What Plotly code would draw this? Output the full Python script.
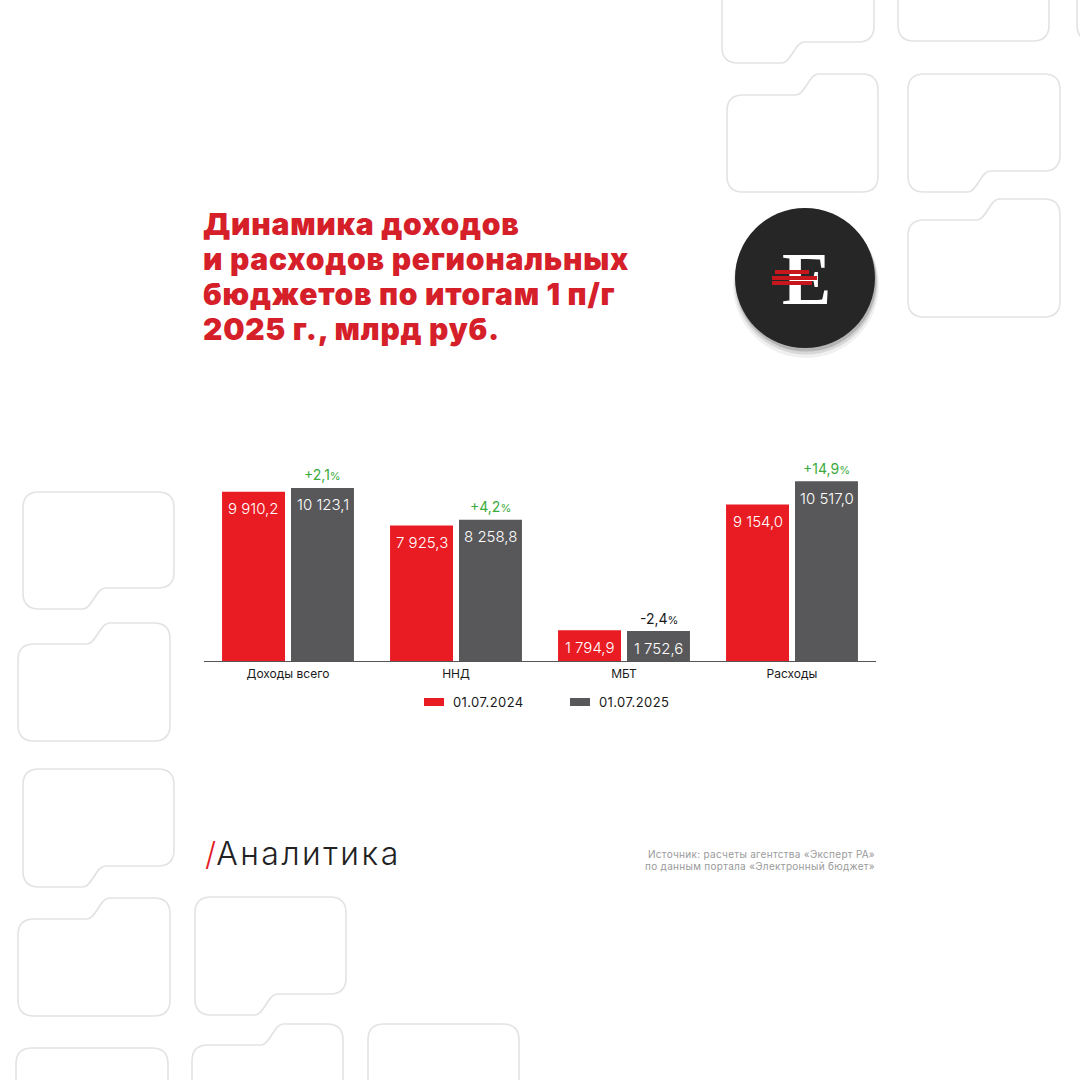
import plotly.graph_objects as go

# ---------------- data ----------------
categories = ["Доходы всего", "ННД", "МБТ", "Расходы"]
values_2024 = [9910.2, 7925.3, 1794.9, 9154.0]
values_2025 = [10123.1, 8258.8, 1752.6, 10517.0]
labels_2024 = ["9 910,2", "7 925,3", "1 794,9", "9 154,0"]
labels_2025 = ["10 123,1", "8 258,8", "1 752,6", "10 517,0"]
change_labels = ["+2,1", "+4,2", "-2,4", "+14,9"]
series_names = ["01.07.2024", "01.07.2025"]

title_lines = ["Динамика доходов", "и расходов региональных",
               "бюджетов по итогам 1 п/г", "2025 г., млрд руб."]
source_lines = ["Источник: расчеты агентства «Эксперт РА»",
                "по данным портала «Электронный бюджет»"]

RED = "#e91c24"
GRAY = "#58585a"
GREEN = "#3aaa3c"
TITLE_RED = "#d5202a"
W = H = 1080


def px(x):
    return x / W


def py(y):
    return 1 - y / H


def pt(x, y):
    return f"{px(x):.5f},{py(y):.5f}"


def ls(text, spacing):
    return f"<span style='letter-spacing:{spacing}px'>{text}</span>"


def card_path(x0, y0, x1, y1, kind=None, xn=None, r=16, d=21, hw=11, k=9):
    p = []
    if kind == "t":
        yl = y0 + d
        p.append("M" + pt(x0, yl + r))
        p.append("Q" + pt(x0, yl) + " " + pt(x0 + r, yl))
        p.append("L" + pt(xn - hw, yl))
        p.append("C" + pt(xn - hw + k, yl) + " " + pt(xn + hw - k, y0) + " " + pt(xn + hw, y0))
        p.append("L" + pt(x1 - r, y0))
    else:
        p.append("M" + pt(x0, y0 + r))
        p.append("Q" + pt(x0, y0) + " " + pt(x0 + r, y0))
        p.append("L" + pt(x1 - r, y0))
    p.append("Q" + pt(x1, y0) + " " + pt(x1, y0 + r))
    if kind == "b":
        yr = y1 - d
        p.append("L" + pt(x1, yr - r))
        p.append("Q" + pt(x1, yr) + " " + pt(x1 - r, yr))
        p.append("L" + pt(xn + hw, yr))
        p.append("C" + pt(xn + hw - k, yr) + " " + pt(xn - hw + k, y1) + " " + pt(xn - hw, y1))
        p.append("L" + pt(x0 + r, y1))
    else:
        p.append("L" + pt(x1, y1 - r))
        p.append("Q" + pt(x1, y1) + " " + pt(x1 - r, y1))
        p.append("L" + pt(x0 + r, y1))
    p.append("Q" + pt(x0, y1) + " " + pt(x0, y1 - r))
    p.append("Z")
    return " ".join(p)


cards = [
    (722, -120, 874, 63, "b", 793),
    (898, -120, 1049, 41, None, None),
    (1077, -120, 1230, 41, None, None),
    (727, 74, 878, 192, "t", 807),
    (908, 74, 1060, 192, "b", 979),
    (908, 199, 1060, 317, "t", 988),
    (23, 492, 174, 609, "b", 94),
    (18, 623, 170, 741, "t", 98),
    (23, 769, 174, 887, "b", 94),
    (18, 898, 170, 1016, "t", 98),
    (195, 897, 346, 1015, "b", 266),
    (16, 1048, 168, 1220, None, None),
    (192, 1024, 343, 1220, "t", 272),
    (368, 1024, 519, 1220, None, None),
]

shapes = []
for c in cards:
    shapes.append(dict(type="path", xref="paper", yref="paper", path=card_path(*c),
                       line=dict(color="#e3e3e3", width=1.6), fillcolor="rgba(0,0,0,0)", layer="below"))

# logo: shadow + circle
cx, cy, cr = 805, 278, 70
for off, grow, a in [(7, 3, 0.06), (5, 1.5, 0.10), (3, 0.5, 0.16)]:
    shapes.append(dict(type="circle", xref="paper", yref="paper",
                       x0=px(cx - cr - grow + 1), x1=px(cx + cr + grow + 1),
                       y0=py(cy + off + cr + grow), y1=py(cy + off - cr - grow),
                       fillcolor=f"rgba(0,0,0,{a})", line=dict(width=0)))
shapes.append(dict(type="circle", xref="paper", yref="paper",
                   x0=px(cx - cr), x1=px(cx + cr), y0=py(cy + cr), y1=py(cy - cr),
                   fillcolor="#262626", line=dict(width=0)))

# legend swatches
legend_items = [(424, RED, series_names[0]), (570, GRAY, series_names[1])]
for lx, col, _ in legend_items:
    shapes.append(dict(type="rect", xref="paper", yref="paper",
                       x0=px(lx), x1=px(lx + 20), y0=py(706), y1=py(698),
                       fillcolor=col, line=dict(width=0)))

fig = go.Figure()
fig.add_trace(go.Bar(x=categories, y=values_2024, name=series_names[0],
                     marker=dict(color=RED, line=dict(width=0)), showlegend=False, hoverinfo="skip"))
fig.add_trace(go.Bar(x=categories, y=values_2025, name=series_names[1],
                     marker=dict(color=GRAY, line=dict(width=0)), showlegend=False, hoverinfo="skip"))

annotations = []
SLOT = 34.5
for i, cat in enumerate(categories):
    annotations.append(dict(x=cat, y=values_2024[i], xref="x", yref="y", text=labels_2024[i],
                            showarrow=False, xshift=-SLOT, yshift=-17, yanchor="middle",
                            font=dict(family="Inter", size=15, color="white", weight=300)))
    annotations.append(dict(x=cat, y=values_2025[i], xref="x", yref="y", text=labels_2025[i],
                            showarrow=False, xshift=SLOT, yshift=-17, yanchor="middle",
                            font=dict(family="Inter", size=15, color="white", weight=300)))
    col = GREEN if not change_labels[i].startswith("-") else "#1a1a1a"
    annotations.append(dict(x=cat, y=values_2025[i], xref="x", yref="y",
                            text=change_labels[i] + "<span style='font-size:11px'>%</span>",
                            showarrow=False, xshift=SLOT, yshift=13, yanchor="middle",
                            font=dict(family="Inter", size=14, color=col)))

# title
title_centers = [224, 259, 294, 329]
for line, yc in zip(title_lines, title_centers):
    annotations.append(dict(x=px(201), y=py(yc), xref="paper", yref="paper", text=ls(line, 0.75),
                            showarrow=False, xanchor="left", yanchor="middle",
                            font=dict(family="Inter", size=30, color=TITLE_RED, weight=900)))

# logo letter + red stripes drawn over it
annotations.append(dict(x=px(806), y=py(279), xref="paper", yref="paper", text="E",
                        showarrow=False, xanchor="center", yanchor="middle",
                        font=dict(family="Liberation Serif", size=74, color="white", weight=700)))
for (x0, x1, yy) in [(775, 809, 272), (772, 817, 277.5), (772, 812, 283)]:
    annotations.append(dict(x=px(x0), y=py(yy), xref="paper", yref="paper", text=" ",
                            showarrow=False, xanchor="left", yanchor="middle",
                            width=x1 - x0, height=3.5, bgcolor="#c8161d", borderpad=0,
                            borderwidth=0, font=dict(size=1)))

# legend texts
for lx, col, name in legend_items:
    annotations.append(dict(x=px(lx + 27), y=py(702), xref="paper", yref="paper", text=ls(name, 0.4),
                            showarrow=False, xanchor="left", yanchor="middle",
                            font=dict(family="Inter", size=13, color="#1a1a1a")))

# footer
annotations.append(dict(x=px(203), y=py(853), xref="paper", yref="paper",
                        text="<span style='color:#e31e26'>/</span>" + ls("Аналитика", 2.5),
                        showarrow=False, xanchor="left", yanchor="middle",
                        font=dict(family="Inter", size=32, color="#222222", weight=300)))
for j, line in enumerate(source_lines):
    annotations.append(dict(x=px(877), y=py(854 + 12 * j), xref="paper", yref="paper",
                            text=ls(line, 0.3),
                            showarrow=False, xanchor="right", yanchor="middle",
                            font=dict(family="Inter", size=10, color="#9a9a9a")))

fig.update_layout(
    width=W, height=H, margin=dict(l=0, r=0, t=0, b=0),
    paper_bgcolor="white", plot_bgcolor="white",
    barmode="group", bargap=0.179, bargroupgap=0.087,
    shapes=shapes, annotations=annotations, showlegend=False,
    xaxis=dict(domain=[px(204), px(876)], showgrid=False, showline=True, linecolor="#555555",
               linewidth=1, ticks="", ticklabelstandoff=2,
               tickfont=dict(family="Inter", size=12, color="#1a1a1a"), fixedrange=True),
    yaxis=dict(domain=[py(661), py(451)], range=[0, 12288], visible=False, fixedrange=True),
)

fig.write_html("out.html", config={"displayModeBar": False})
